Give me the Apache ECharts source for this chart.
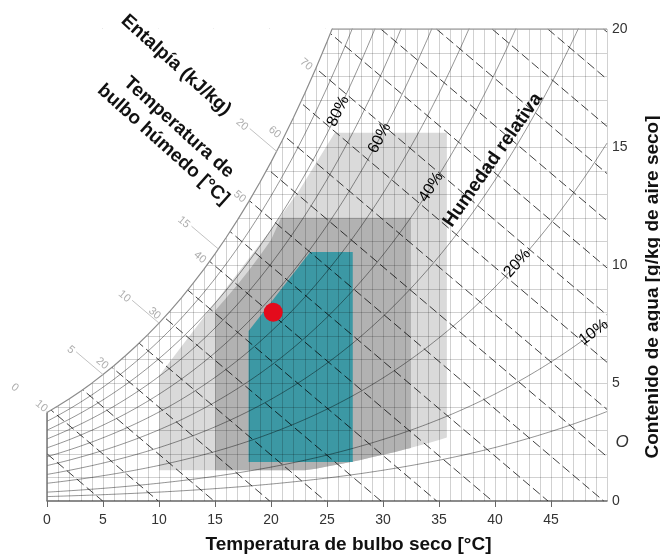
<!DOCTYPE html>
<html lang="es">
<head>
<meta charset="utf-8">
<title>Diagrama psicrométrico</title>
<script src="https://cdn.jsdelivr.net/npm/echarts@6/dist/echarts.min.js"></script>
<style>
html,body{margin:0;padding:0;background:#ffffff;}
#chart{width:660px;height:557px;}
</style>
</head>
<body>
<div id="chart"></div>
<script>
// ---------------- data ----------------
const dryBulbTemps = [0,1,2,3,4,5,6,7,8,9,10,11,12,13,14,15,16,17,18,19,20,21,22,23,24,25,26,27,28,29,30,31,32,33,34,35,36,37,38,39,40,41,42,43,44,45,46,47,48,49,50];
// saturation water content of the chart (g/kg dry air) at each dry-bulb temperature
const saturationHumidity = [3.752,4.034,4.334,4.654,4.994,5.357,5.742,6.152,6.587,7.049,7.540,8.060,8.611,9.197,9.815,10.471,11.165,11.899,12.675,13.494,14.360,15.274,16.238,17.255,18.328,19.458,20.649,21.903,23.222,24.610,26.069,27.604,29.216,30.910,32.687,34.553,36.510,38.563,40.715,42.969,45.331,47.804,50.393,53.102,55.935,58.898,61.994,65.230,68.610,72.138,75.822];
const humidityGridLevels = [1,2,3,4,5,6,7,8,9,10,11,12,13,14,15,16,17,18,19];
const rhLevels = [5,10,20,30,40,50,60,70,80,90];
const rhLabelLevels = [80,60,40,20,10];
const rhLabelTemps = [26.0,29.7,34.3,42.0,48.8];
const enthalpyLevels = [5,10,15,20,25,30,35,40,45,50,55,60,65,70,75,80,85,90,95,100];
const enthalpyLabelLevels = [10,20,30,40,50,60,70];
const wetBulbLabelLevels = [0,5,10,15,20];
const wetBulbMeetTemps = [0,5,10,15.3,20.5];
const xTickValues = [0,5,10,15,20,25,30,35,40,45];
const yTickValues = [0,5,10,15,20];
// comfort zones: [dry bulb °C, water content g/kg]
const zoneOuter = [[10,1.3],[10,5.3],[12.5,6.85],[15,8.4],[17.5,9.95],[20,11.5],[22.5,13.15],[25.7,15.6],[35.7,15.6],[35.7,2.69],[35,2.59],[34,2.45],[33,2.32],[32,2.19],[31,2.07],[30,1.96],[29,1.85],[28,1.74],[27,1.64],[26,1.55],[25,1.46],[24,1.37],[23,1.3]];
const zoneMiddle = [[15,1.3],[15,8.06],[16,8.60],[17,9.16],[18,9.76],[19,10.39],[20,11.06],[20.9,12.0],[32.5,12.0],[32.5,2.25],[32,2.19],[31,2.07],[30,1.96],[29,1.85],[28,1.74],[27,1.64],[26,1.55],[25,1.46],[24,1.37],[23,1.3]];
const zoneInner = [[18,1.65],[18,7.2],[23.5,10.55],[27.3,10.55],[27.3,1.65]];
const operatingPoint = [20.2, 8.0];

// ---------------- helpers ----------------
const W_MAX = 20, T_MAX = 50;
const CP_AIR = 1.006, H_FG = 2.501; // enthalpy h = 1.006 t + 2.501 w
function satAt(t){
  if (t <= 0) return saturationHumidity[0];
  const i = Math.min(Math.floor(t), dryBulbTemps.length - 2);
  const f = t - dryBulbTemps[i];
  return saturationHumidity[i] * (1 - f) + saturationHumidity[i + 1] * f;
}
function trimAtTop(points){
  const out = [];
  for (const p of points){ out.push(p); if (p[1] > W_MAX) break; }
  return out;
}
function enthalpyMeetTemp(h){
  for (let i = 0; i < dryBulbTemps.length - 1; i++){
    const f0 = CP_AIR*dryBulbTemps[i] + H_FG*saturationHumidity[i] - h;
    const f1 = CP_AIR*dryBulbTemps[i+1] + H_FG*saturationHumidity[i+1] - h;
    if (f0 <= 0 && f1 > 0) return dryBulbTemps[i] + (-f0)/(f1 - f0);
  }
  return 0;
}
function satTopTemp(){
  for (let i = 0; i < saturationHumidity.length - 1; i++){
    if (saturationHumidity[i] <= W_MAX && saturationHumidity[i+1] > W_MAX)
      return dryBulbTemps[i] + (W_MAX - saturationHumidity[i])/(saturationHumidity[i+1]-saturationHumidity[i]);
  }
  return T_MAX;
}
const crisp = v => Math.round(v) + 0.5;

// ---------------- chart ----------------
const chart = echarts.init(document.getElementById('chart'), null, {renderer:'canvas', width:660, height:557});
const zones = [zoneOuter, zoneMiddle, zoneInner];
const zoneColors = ['#dadada', '#b2b2b2', '#3c98a4'];
const FONT = '"Liberation Sans", Arial, Helvetica, sans-serif';

const series = [];
// shaded zones
series.push({
  type:'custom', name:'zonas', coordinateSystem:'cartesian2d', z:1, silent:true, clip:true,
  data: zones.map((z, i) => [z[0][0], z[0][1], i]),
  encode:{x:0, y:1},
  renderItem:(params, api) => {
    const i = api.value(2);
    return {type:'polygon', shape:{points: zones[i].map(p => api.coord(p))}, style:{fill: zoneColors[i]}};
  }
});
// vertical grid (dry bulb, every 1 °C)
series.push({
  type:'custom', name:'rejilla-t', coordinateSystem:'cartesian2d', z:2, silent:true,
  data: dryBulbTemps.map(t => [t, 0]), encode:{x:0, y:1},
  renderItem:(params, api) => {
    const t = api.value(0);
    const a = api.coord([t, 0]), b = api.coord([t, W_MAX]);
    return {type:'line', shape:{x1:crisp(a[0]), y1:a[1], x2:crisp(b[0]), y2:b[1]}, style:{stroke:'rgba(0,0,0,0.18)', lineWidth:1}};
  }
});
// horizontal grid (water content, every 1 g/kg)
series.push({
  type:'custom', name:'rejilla-w', coordinateSystem:'cartesian2d', z:2, silent:true,
  data: humidityGridLevels.map(w => [0, w]), encode:{x:0, y:1},
  renderItem:(params, api) => {
    const w = api.value(1);
    const a = api.coord([0, w]), b = api.coord([T_MAX, w]);
    return {type:'line', shape:{x1:a[0], y1:crisp(a[1]), x2:b[0], y2:crisp(b[1])}, style:{stroke:'rgba(0,0,0,0.18)', lineWidth:1}};
  }
});
// relative humidity curves
rhLevels.forEach(rh => {
  series.push({
    type:'line', name:'HR ' + rh + '%', z:3, silent:true, clip:true, symbol:'none', smooth:0.2,
    data: trimAtTop(dryBulbTemps.map((t, i) => [t, rh/100*saturationHumidity[i]])),
    lineStyle:{color:'rgba(0,0,0,0.42)', width:1}
  });
});
// enthalpy lines (dashed)
enthalpyLevels.forEach(h => {
  const t0 = Math.max(0, (h - H_FG*W_MAX)/CP_AIR);
  const t1 = Math.min(T_MAX, h/CP_AIR);
  series.push({
    type:'line', name:'h ' + h, z:3, silent:true, clip:true, symbol:'none',
    data:[[t0, (h - CP_AIR*t0)/H_FG], [t1, (h - CP_AIR*t1)/H_FG]],
    lineStyle:{color:'rgba(0,0,0,0.75)', width:1, type:[9,4]}
  });
});
// saturation curve with white cover above it
series.push({
  type:'line', name:'saturación', z:4, silent:true, clip:true, symbol:'none',
  data: trimAtTop(dryBulbTemps.map((t, i) => [t, saturationHumidity[i]])),
  lineStyle:{color:'#8c8c8c', width:1.2},
  areaStyle:{color:'#ffffff', opacity:1, origin:'end'}
});
// top border and left edge
const tTop = satTopTemp();
series.push({type:'line', name:'borde-sup', z:5, silent:true, symbol:'none', data:[[tTop, W_MAX],[T_MAX, W_MAX]], lineStyle:{color:'#9a9a9a', width:1.5}});
series.push({type:'line', name:'borde-izq', z:5, silent:true, symbol:'none', data:[[0,0],[0,saturationHumidity[0]]], lineStyle:{color:'#777777', width:1.5}});
// wet bulb leaders
const LEADER = 2.4;
const wetBulbEnds = wetBulbMeetTemps.map(t => [t - LEADER, satAt(t) + LEADER*CP_AIR/H_FG]);
wetBulbMeetTemps.forEach((t, i) => {
  series.push({type:'line', name:'bh ' + wetBulbLabelLevels[i], z:5, silent:true, clip:false, symbol:'none',
    data:[[t, satAt(t)], wetBulbEnds[i]], lineStyle:{color:'#c2c2c2', width:1}});
});
series.push({
  type:'scatter', name:'etiquetas-bh', z:6, silent:true, clip:false, symbolSize:0,
  data: wetBulbLabelLevels.map((v, i) => ({name:String(v), value: wetBulbEnds[i]})),
  label:{show:true, formatter:'{b}', position:'left', distance:3, rotate:-40, color:'#999999', fontSize:11, fontFamily:FONT}
});
// enthalpy labels at saturation
series.push({
  type:'scatter', name:'etiquetas-h', z:6, silent:true, clip:false, symbolSize:0,
  data: enthalpyLabelLevels.map(h => { const t = enthalpyMeetTemp(h); return {name:String(h), value:[t, satAt(t)]}; }),
  label:{show:true, formatter:'{b}', position:'left', distance:5, rotate:-40, color:'#999999', fontSize:11, fontFamily:FONT}
});
// RH labels (rotation filled in after first layout)
function rhLabelData(rots){
  return rhLabelLevels.map((rh, i) => ({
    name: rh + '%', value:[rhLabelTemps[i], rh/100*satAt(rhLabelTemps[i])],
    label:{rotate: rots ? rots[i] : 0}
  }));
}
series.push({
  type:'scatter', name:'etiquetas-hr', z:6, silent:true, clip:false, symbolSize:0,
  itemStyle:{opacity:1},
  data: rhLabelData(null),
  label:{show:true, formatter:'{b}', position:'inside', color:'#000000', opacity:1, fontSize:16, fontFamily:FONT, textBorderWidth:0}
});
// operating point
series.push({type:'scatter', name:'punto', z:10, silent:true, symbolSize:19, data:[operatingPoint], itemStyle:{color:'#e30b1c', opacity:1}});

const TITLE_FONT = 'bold 19px ' + FONT;
const option = {
  animation:false,
  backgroundColor:'#ffffff',
  grid:{left:47, right:53, top:29, bottom:56, containLabel:false, outerBoundsMode:'none'},
  xAxis:{
    type:'value', min:0, max:T_MAX, interval:5,
    name:'Temperatura de bulbo seco [°C]', nameLocation:'middle', nameGap:34,
    nameTextStyle:{fontFamily:FONT, fontWeight:'bold', fontSize:19, color:'#111', padding:[0,0,0,43]},
    axisLine:{lineStyle:{color:'#666666', width:1.5}},
    axisTick:{show:true, length:6, lineStyle:{color:'#666666'}, customValues:xTickValues},
    axisLabel:{fontFamily:FONT, fontSize:14, color:'#333', margin:12, customValues:xTickValues},
    splitLine:{show:false}
  },
  yAxis:{
    type:'value', position:'right', min:0, max:W_MAX, interval:5,
    name:'Contenido de agua [g/kg de aire seco]', nameLocation:'middle', nameGap:36, nameRotate:90,
    nameTextStyle:{fontFamily:FONT, fontWeight:'bold', fontSize:19, color:'#111', padding:[0,44,0,0]},
    axisLine:{show:false}, axisTick:{show:false},
    axisLabel:{fontFamily:FONT, fontSize:14, color:'#333', margin:5, customValues:yTickValues},
    splitLine:{show:false}
  },
  graphic:[
    {type:'text', z:100, x:176, y:65, rotation:-42*Math.PI/180, style:{text:'Entalpía (kJ/kg)', font:TITLE_FONT, fill:'#111', align:'center', verticalAlign:'middle'}},
    {type:'text', z:100, x:171, y:136, rotation:-42*Math.PI/180, style:{text:'Temperatura de\nbulbo húmedo [°C]', font:TITLE_FONT, fill:'#111', align:'center', verticalAlign:'middle', lineHeight:23}},
    {type:'text', z:100, x:493, y:160, rotation:55*Math.PI/180, style:{text:'Humedad relativa', font:TITLE_FONT, fill:'#111', align:'center', verticalAlign:'middle'}},
    {type:'text', z:100, x:622, y:442, style:{text:'O', font:'italic 17px ' + FONT, fill:'#333', align:'center', verticalAlign:'middle'}}
  ],
  series: series
};
chart.setOption(option);

// rotate RH labels along their curves
const rots = rhLabelLevels.map((rh, i) => {
  const t = rhLabelTemps[i];
  const a = chart.convertToPixel({gridIndex:0}, [t - 0.5, rh/100*satAt(t - 0.5)]);
  const b = chart.convertToPixel({gridIndex:0}, [t + 0.5, rh/100*satAt(t + 0.5)]);
  return Math.atan2(a[1] - b[1], b[0] - a[0]) * 180 / Math.PI;
});
chart.setOption({series: series.map(s => s.name === 'etiquetas-hr' ? {name:s.name, data: rhLabelData(rots)} : {name:s.name})});
</script>
</body>
</html>
